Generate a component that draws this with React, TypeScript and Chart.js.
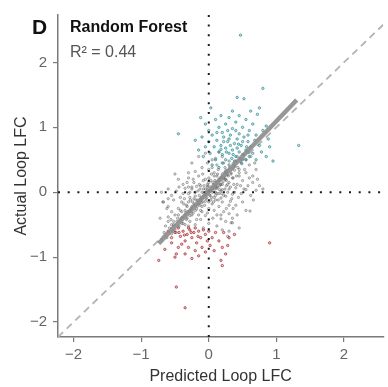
import React, { useEffect, useRef } from "react";
import { Chart, registerables } from "chart.js";

Chart.register(...registerables);

const FONT = "'Liberation Sans', Arial, Helvetica, sans-serif";

const xTicks = [-2, -1, 0, 1, 2];
const yTicks = [-2, -1, 0, 1, 2];
const xRange = [-2.23, 2.58];
const yRange = [-2.23, 2.73];

const panelLetter = "D";
const modelName = "Random Forest";
const r2Label = "R² = 0.44";
const xTitle = "Predicted Loop LFC";
const yTitle = "Actual Loop LFC";

// regression fit line end points (x, y)
const fitX = [-0.74, 1.3];
const fitY = [-0.79, 1.42];

const grayPoints: [number, number][] = [
  [-0.25, 0.45], [-0.15, 0.55], [-0.05, 0.6], [0.05, 0.5], [0.12, 0.42], [0.2, 0.55], [0.3, 0.48], [0.38, 0.4],
  [0.45, 0.35], [0.5, 0.5], [0.15, 0.62], [-0.1, 0.38], [0.0, 0.35], [0.08, 0.3], [0.25, 0.33], [0.33, 0.28],
  [0.55, 0.3], [0.6, 0.42], [-0.3, 0.3], [-0.2, 0.32], [0.42, 0.55], [0.22, 0.45], [-0.02, 0.45], [0.1, 0.52],
  [0.65, 0.25], [0.7, 0.35],
  [-0.45, 0.2], [-0.38, 0.12], [-0.3, 0.22], [-0.22, 0.15], [-0.15, 0.25], [-0.08, 0.18], [0.0, 0.22], [0.06, 0.15],
  [0.12, 0.25], [0.18, 0.12], [0.24, 0.2], [0.3, 0.15], [0.36, 0.22], [0.42, 0.12], [0.5, 0.18], [0.58, 0.1],
  [0.65, 0.15], [0.72, 0.2], [-0.5, 0.28], [-0.02, 0.12], [0.1, 0.1], [0.28, 0.27], [0.2, 0.28], [-0.12, 0.1],
  [0.45, 0.25], [0.15, 0.18], [-0.25, 0.05], [0.04, 0.28],
  [-0.7, 0.0], [-0.6, 0.05], [-0.55, -0.05], [-0.48, 0.02], [-0.42, -0.08], [-0.35, 0.06], [-0.3, -0.02], [-0.25, 0.08],
  [-0.2, -0.06], [-0.16, 0.02], [-0.12, -0.1], [-0.08, 0.05], [-0.05, -0.03], [-0.02, 0.08], [0.02, -0.05], [0.05, 0.03],
  [0.08, -0.08], [0.12, 0.06], [0.15, -0.02], [0.2, 0.04], [0.25, -0.06], [0.3, 0.05], [0.35, -0.03], [0.4, 0.07],
  [0.48, -0.02], [0.55, 0.04], [0.62, -0.05], [0.7, 0.03], [0.8, 0.05], [-0.1, 0.0], [0.0, 0.0], [0.1, 0.0],
  [-0.18, 0.09], [0.18, -0.09], [-0.38, -0.02], [0.28, 0.0], [-0.28, 0.0], [0.38, 0.0],
  [-0.68, -0.15], [-0.6, -0.22], [-0.52, -0.12], [-0.45, -0.25], [-0.4, -0.15], [-0.33, -0.2], [-0.27, -0.12], [-0.2, -0.28],
  [-0.15, -0.18], [-0.1, -0.22], [-0.05, -0.14], [0.0, -0.25], [0.05, -0.18], [0.1, -0.12], [0.15, -0.22], [0.2, -0.15],
  [0.26, -0.25], [0.32, -0.14], [0.4, -0.2], [0.5, -0.15], [0.55, -0.28], [-0.55, -0.3], [-0.35, -0.28], [0.08, -0.28],
  [-0.25, -0.22], [0.22, -0.05],
  [-0.6, -0.38], [-0.52, -0.45], [-0.45, -0.35], [-0.4, -0.48], [-0.32, -0.4], [-0.25, -0.35], [-0.2, -0.5], [-0.12, -0.42],
  [-0.05, -0.36], [0.0, -0.48], [0.06, -0.4], [0.12, -0.52], [0.18, -0.35], [0.25, -0.45], [0.35, -0.4], [-0.55, -0.5],
  [-0.3, -0.52], [0.3, -0.33], [-0.08, -0.55], [0.2, -0.58],
  [0.3, -0.6], [0.45, -0.55], [0.61, -0.29], [0.35, -0.47], [0.18, -0.41], [-0.67, -0.15], [0.28, -0.68],
  [-0.7, -0.72], [-0.66, -0.62], [-0.62, -0.7], [-0.58, -0.55], [-0.55, -0.64], [-0.52, -0.5], [-0.5, -0.58], [-0.47, -0.45],
  [-0.44, -0.52], [-0.41, -0.4], [-0.38, -0.48], [-0.36, -0.35], [-0.33, -0.42], [-0.31, -0.3], [-0.28, -0.36], [-0.26, -0.25],
  [-0.23, -0.32], [-0.21, -0.2], [-0.18, -0.26], [-0.16, -0.12], [-0.13, -0.2], [-0.11, -0.08], [-0.09, -0.15], [-0.07, -0.02],
  [-0.04, -0.1], [-0.02, 0.04], [0.01, -0.04], [0.03, 0.08], [0.05, 0.0], [0.07, 0.12], [0.09, 0.05], [0.11, 0.16],
  [0.13, 0.08], [0.15, 0.2], [0.17, 0.12], [0.19, 0.24], [0.21, 0.16], [0.23, 0.3], [0.25, 0.2], [0.27, 0.34],
  [0.29, 0.25], [0.31, 0.38], [0.33, 0.3], [0.36, 0.44], [0.38, 0.34], [0.4, 0.48], [0.43, 0.38], [0.46, 0.52],
  [0.49, 0.44], [0.52, 0.58], [0.55, 0.5], [0.58, 0.62], [0.62, 0.55], [-0.6, -0.45], [-0.48, -0.62], [-0.35, -0.5],
  [-0.22, -0.1], [-0.12, -0.28], [0.0, 0.15], [0.12, -0.02], [0.24, 0.38], [0.35, 0.22], [0.45, 0.3], [-0.4, -0.3],
  [-0.3, -0.15], [-0.05, 0.2], [0.08, 0.25], [0.18, 0.02], [-0.15, -0.35], [0.28, 0.12],
  [-0.05, 0.05], [0.03, -0.12], [-0.14, 0.12], [0.16, 0.1], [-0.24, -0.15], [0.26, 0.1], [-0.32, 0.15], [0.34, -0.1],
  [-0.44, 0.08], [0.44, -0.08], [0.6, 0.22], [-0.6, -0.1], [0.52, 0.05], [-0.36, -0.1], [0.68, 0.45], [0.75, 0.1],
  [-0.32, -0.22], [-0.28, -0.08], [-0.26, -0.3], [-0.22, -0.18], [-0.2, 0.0], [-0.19, -0.12], [-0.17, -0.22], [-0.14, -0.05],
  [-0.13, 0.05], [-0.11, -0.16], [-0.1, -0.3], [-0.08, -0.06], [-0.07, 0.1], [-0.06, -0.2], [-0.04, 0.0], [-0.03, -0.08],
  [-0.01, 0.1], [0.0, -0.15], [0.02, 0.02], [0.03, 0.18], [0.04, -0.08], [0.06, 0.06], [0.07, -0.15], [0.09, 0.18],
  [0.1, -0.05], [0.11, 0.08], [0.13, 0.28], [0.14, -0.12], [0.16, 0.04], [0.17, 0.22], [0.19, -0.02], [0.2, 0.12],
  [0.22, 0.22], [0.24, 0.05], [0.26, 0.18], [-0.34, -0.32], [-0.37, -0.18], [-0.39, -0.38], [-0.42, -0.28], [-0.46, -0.4],
  [-0.5, -0.35], [-0.53, -0.6], [-0.56, -0.42], [-0.64, -0.52], [-0.3, 0.08], [-0.23, 0.2], [-0.09, 0.28], [0.05, 0.38],
  [0.14, 0.35], [0.32, 0.08], [0.37, 0.12], [0.41, 0.25], [0.47, 0.1], [0.53, 0.35], [0.3, -0.2], [0.22, -0.3],
  [0.12, -0.35], [-0.02, -0.32], [-0.18, -0.42], [-0.28, -0.45], [0.36, -0.25], [0.42, -0.35], [-0.62, -0.25], [-0.72, -0.4],
  [0.33, -0.47], [0.66, -0.12],
];

const tealPoints: [number, number][] = [
  [0.42, 1.46], [0.52, 1.44], [0.8, 1.6], [0.03, 1.3], [0.47, 2.42], [-0.45, 0.9], [1.33, 0.72],
  [-0.12, 1.15], [-0.05, 1.05], [0.0, 0.95], [-0.1, 0.85], [-0.2, 0.8], [0.05, 0.88], [0.1, 1.12], [0.15, 1.0],
  [0.2, 0.92], [0.25, 1.05], [0.3, 1.15], [0.35, 0.98], [0.4, 1.08], [0.45, 0.9], [0.5, 1.0], [0.55, 1.12],
  [0.6, 0.95], [0.65, 1.05], [0.7, 0.88], [0.72, 1.2], [0.8, 0.95], [0.85, 1.02], [0.12, 0.8], [0.18, 0.72],
  [0.22, 0.85], [0.28, 0.78], [0.32, 0.88], [0.38, 0.75], [0.42, 0.82], [0.48, 0.72], [0.52, 0.85], [0.58, 0.78],
  [0.62, 0.7], [0.68, 0.8], [0.75, 0.72], [0.08, 0.7], [0.15, 0.62], [0.2, 0.58], [0.25, 0.68], [0.3, 0.6],
  [0.35, 0.65], [0.4, 0.55], [0.45, 0.62], [0.5, 0.58], [0.55, 0.65], [0.6, 0.55], [0.02, 0.6], [-0.05, 0.7],
  [-0.15, 0.65], [0.1, 0.5], [0.25, 0.5], [0.38, 0.48], [0.48, 0.45], [0.3, 0.42], [0.2, 0.45], [0.65, 0.6],
  [0.7, 0.5], [0.78, 0.62], [0.85, 0.55], [0.9, 0.7], [0.95, 0.48], [0.0, 0.78], [0.12, 0.92], [0.28, 0.95],
  [0.45, 1.18], [0.62, 1.25], [0.35, 1.25], [0.18, 1.18], [0.55, 0.5], [0.42, 0.68], [0.32, 0.72], [0.22, 0.78],
  [0.58, 0.88], [-0.08, 0.55], [0.15, 0.38], [0.05, 0.42], [0.88, 0.82], [0.75, 1.3], [0.25, 0.3], [0.4, 0.95],
  [0.3, 0.82], [0.36, 0.58], [0.5, 0.78], [0.26, 0.62], [0.44, 0.74], [0.18, 0.66], [0.34, 0.52], [0.56, 0.7],
];

const redPoints: [number, number][] = [
  [-0.6, -0.6], [-0.55, -0.7], [-0.5, -0.62], [-0.45, -0.55], [-0.42, -0.68], [-0.38, -0.6], [-0.35, -0.75], [-0.32, -0.65],
  [-0.28, -0.58], [-0.25, -0.7], [-0.22, -0.62], [-0.18, -0.78], [-0.15, -0.6], [-0.12, -0.7], [-0.08, -0.58], [-0.05, -0.65],
  [-0.02, -0.75], [-0.4, -0.8], [-0.3, -0.85], [-0.2, -0.9], [-0.15, -0.98], [-0.35, -0.95], [-0.25, -1.02], [-0.1, -0.85],
  [-0.45, -0.85], [0.05, -0.7], [0.1, -0.62], [0.15, -0.75], [0.22, -0.62], [0.3, -0.7], [0.2, -0.85], [0.25, -0.95],
  [0.18, -1.05], [0.08, -0.9], [-0.65, -0.88], [-0.48, -0.95], [-0.55, -0.78], [-0.3, -0.55], [-0.5, -1.0], [-0.05, -0.92],
  [0.9, -0.78], [-0.48, -1.46], [-0.35, -1.78], [0.38, -0.65], [0.0, -0.6], [-0.2, -0.55], [0.02, -0.82], [-0.74, -1.05],
  [0.2, -1.13], [0.28, -0.82], [-0.36, -0.66], [-0.26, -0.62], [-0.16, -0.68], [-0.44, -0.62],
];

const toXY = (pts: [number, number][]) => pts.map(([x, y]) => ({ x, y }));
const fmt = (v: number | string) => {
  const n = Number(v);
  return n < 0 ? "\u2212" + Math.abs(n) : String(n);
};

const textPlugin = {
  id: "panelText",
  afterDraw(chart: any) {
    const ctx = chart.ctx as CanvasRenderingContext2D;
    ctx.save();
    ctx.textBaseline = "alphabetic";
    ctx.textAlign = "left";
    ctx.fillStyle = "#111";
    ctx.font = `bold 21px ${FONT}`;
    ctx.fillText(panelLetter, 32, 34);
    ctx.font = `bold 16px ${FONT}`;
    ctx.fillText(modelName, 70, 32);
    ctx.fillStyle = "#555";
    ctx.font = `16px ${FONT}`;
    ctx.fillText(r2Label, 70, 57);
    ctx.restore();
  },
};

export default function App() {
  const ref = useRef<HTMLCanvasElement | null>(null);

  useEffect(() => {
    if (!ref.current) return;
    const axisColor = "#7a7a7a";
    const chart = new Chart(ref.current, {
      type: "scatter",
      data: {
        datasets: [
          {
            type: "line",
            label: "fit",
            data: fitX.map((x, i) => ({ x, y: fitY[i] })),
            borderColor: "rgba(140,140,140,0.9)",
            borderWidth: 4.5,
            pointRadius: 0,
            order: 0,
          } as any,
          {
            type: "line",
            label: "x0",
            data: [{ x: 0, y: yRange[0] }, { x: 0, y: yRange[1] }],
            borderColor: "#1a1a1a",
            borderWidth: 2,
            borderDash: [2, 7.7],
            pointRadius: 0,
            order: 1,
          } as any,
          {
            type: "line",
            label: "y0",
            data: [{ x: xRange[0], y: 0 }, { x: xRange[1], y: 0 }],
            borderColor: "#1a1a1a",
            borderWidth: 2,
            borderDash: [2, 7.7],
            pointRadius: 0,
            order: 1,
          } as any,
          {
            type: "line",
            label: "identity",
            data: [{ x: xRange[0], y: xRange[0] }, { x: xRange[1], y: xRange[1] }],
            borderColor: "#b3b3b3",
            borderWidth: 1.8,
            borderDash: [7, 5],
            pointRadius: 0,
            order: 5,
          } as any,
          {
            label: "up",
            data: toXY(tealPoints),
            pointRadius: 1.2,
            borderWidth: 0.8,
            borderColor: "rgba(35,135,145,0.85)",
            backgroundColor: "rgba(35,135,145,0.25)",
            order: 2,
          },
          {
            label: "down",
            data: toXY(redPoints),
            pointRadius: 1.2,
            borderWidth: 0.8,
            borderColor: "rgba(165,30,35,0.85)",
            backgroundColor: "rgba(165,30,35,0.25)",
            order: 3,
          },
          {
            label: "other",
            data: toXY(grayPoints),
            pointRadius: 1.2,
            borderWidth: 0.8,
            borderColor: "rgba(85,85,85,0.55)",
            backgroundColor: "rgba(85,85,85,0.2)",
            order: 4,
          },
        ],
      },
      options: {
        animation: false,
        responsive: false,
        devicePixelRatio: 1,
        layout: { padding: { top: 13, right: 0, left: 0, bottom: 0 } },
        plugins: { legend: { display: false }, tooltip: { enabled: false } },
        scales: {
          x: {
            type: "linear",
            min: xRange[0],
            max: xRange[1],
            afterBuildTicks: (s: any) => {
              s.ticks = xTicks.map((v) => ({ value: v }));
            },
            afterFit: (s: any) => {
              s.height = 50;
            },
            grid: { display: true, drawOnChartArea: false, drawTicks: true, tickLength: 5, color: axisColor, lineWidth: 1.2 },
            border: { display: true, color: axisColor, width: 1.5 },
            ticks: { color: "#666", font: { size: 15, family: FONT }, padding: 4, callback: fmt, maxRotation: 0, autoSkip: false },
            title: { display: true, text: xTitle, color: "#333", font: { size: 16, family: FONT }, padding: { top: 0, bottom: 1 } },
          },
          y: {
            type: "linear",
            min: yRange[0],
            max: yRange[1],
            afterBuildTicks: (s: any) => {
              s.ticks = yTicks.map((v) => ({ value: v }));
            },
            afterFit: (s: any) => {
              s.width = 58;
            },
            grid: { display: true, drawOnChartArea: false, drawTicks: true, tickLength: 5, color: axisColor, lineWidth: 1.2 },
            border: { display: true, color: axisColor, width: 1.5 },
            ticks: { color: "#666", font: { size: 15, family: FONT }, padding: 6, callback: fmt, autoSkip: false },
            title: { display: true, text: yTitle, color: "#333", font: { size: 16, family: FONT }, padding: { top: 12, bottom: 0 } },
          },
        },
      },
      plugins: [textPlugin],
    });
    return () => chart.destroy();
  }, []);

  return (
    <div style={{ position: "absolute", left: 0, top: 0, width: 388, height: 387, background: "#fff" }}>
      <canvas ref={ref} width={388} height={387} style={{ width: 388, height: 387 }} />
    </div>
  );
}
